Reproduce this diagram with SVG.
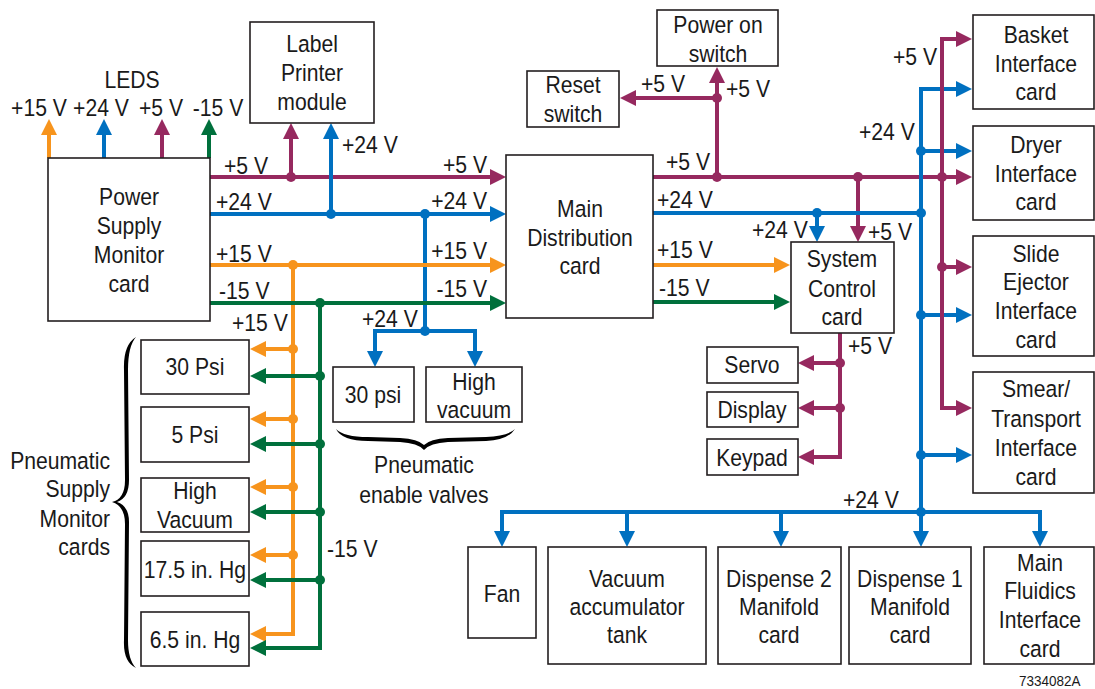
<svg xmlns="http://www.w3.org/2000/svg" width="1095" height="689" viewBox="0 0 1095 689">
<style>
text{font-family:"Liberation Sans",Arial,sans-serif;font-size:23.5px;fill:#1a1a1a;transform-box:fill-box;transform-origin:left center;transform:scaleX(0.9)}
.c{text-anchor:middle;transform-origin:center}
.e{text-anchor:end;transform-origin:right center}
.box{fill:#fff;stroke:#231f20;stroke-width:1.6}
.w{fill:none;stroke-width:4;stroke-linejoin:miter}
.M{stroke:#96295f}.B{stroke:#0070c0}.O{stroke:#f7941d}.G{stroke:#00703c}
.dM{fill:#96295f}.dB{fill:#0070c0}.dO{fill:#f7941d}.dG{fill:#00703c}
.am{marker-end:url(#aM)}.ab{marker-end:url(#aB)}.ao{marker-end:url(#aO)}.ag{marker-end:url(#aG)}
.brace{fill:#000;stroke:none}
</style>
<defs>
<marker id="aM" viewBox="0 0 16 16" refX="4" refY="8" markerWidth="16" markerHeight="16" markerUnits="userSpaceOnUse" orient="auto"><path d="M0,0 L16,8 L0,16 z" fill="#96295f"/></marker>
<marker id="aB" viewBox="0 0 16 16" refX="4" refY="8" markerWidth="16" markerHeight="16" markerUnits="userSpaceOnUse" orient="auto"><path d="M0,0 L16,8 L0,16 z" fill="#0070c0"/></marker>
<marker id="aO" viewBox="0 0 16 16" refX="4" refY="8" markerWidth="16" markerHeight="16" markerUnits="userSpaceOnUse" orient="auto"><path d="M0,0 L16,8 L0,16 z" fill="#f7941d"/></marker>
<marker id="aG" viewBox="0 0 16 16" refX="4" refY="8" markerWidth="16" markerHeight="16" markerUnits="userSpaceOnUse" orient="auto"><path d="M0,0 L16,8 L0,16 z" fill="#00703c"/></marker>
</defs>

<g id="connectors">
<path class="w O ao" d="M49,158 V131"/>
<path class="w B ab" d="M104,158 V131"/>
<path class="w M am" d="M162,158 V131"/>
<path class="w G ag" d="M209,158 V131"/>
<path class="w M am" d="M210,177 H494"/>
<path class="w M am" d="M291,177 V135"/>
<path class="w B ab" d="M210,214 H494"/>
<path class="w B ab" d="M331,214 V135"/>
<path class="w B" d="M425,214 V331"/>
<path class="w B ab" d="M425,331 H375 V355"/>
<path class="w B ab" d="M425,331 H475 V355"/>
<path class="w O ao" d="M210,265 H494"/>
<path class="w O ao" d="M293,265 V634 H262"/>
<path class="w O ao" d="M293,349 H262"/>
<path class="w O ao" d="M293,419 H262"/>
<path class="w O ao" d="M293,487 H262"/>
<path class="w O ao" d="M293,555 H262"/>
<path class="w G ag" d="M210,303 H494"/>
<path class="w G ag" d="M320,303 V648 H262"/>
<path class="w G ag" d="M320,376 H262"/>
<path class="w G ag" d="M320,444 H262"/>
<path class="w G ag" d="M320,512 H262"/>
<path class="w G ag" d="M320,580 H262"/>
<path class="w M am" d="M653,177 H960"/>
<path class="w M am" d="M717,177 V79"/>
<path class="w M am" d="M717,98 H632"/>
<path class="w M am" d="M858,177 V230"/>
<path class="w B" d="M653,213 H921"/>
<path class="w B ab" d="M817,213 V230"/>
<path class="w O ao" d="M653,265 H778"/>
<path class="w G ag" d="M653,302 H778"/>
<path class="w B ab" d="M921,512 V89 H960"/>
<path class="w B ab" d="M921,151 H960"/>
<path class="w B ab" d="M921,315 H960"/>
<path class="w B ab" d="M921,455 H960"/>
<path class="w M am" d="M942,177 V39 H960"/>
<path class="w M am" d="M942,177 V408 H960"/>
<path class="w M am" d="M942,267 H960"/>
<path class="w M am" d="M840,333 V457 H810"/>
<path class="w M am" d="M840,363 H810"/>
<path class="w M am" d="M840,408 H810"/>
<path class="w B ab" d="M921,512 H502 V535"/>
<path class="w B ab" d="M921,512 H1040 V535"/>
<path class="w B ab" d="M627,512 V535"/>
<path class="w B ab" d="M781,512 V535"/>
<path class="w B ab" d="M921,512 V535"/>
<circle class="dM" cx="291" cy="177" r="5"/>
<circle class="dB" cx="331" cy="214" r="5"/>
<circle class="dB" cx="425" cy="214" r="5"/>
<circle class="dB" cx="425" cy="331" r="5"/>
<circle class="dO" cx="293" cy="265" r="5"/>
<circle class="dG" cx="320" cy="303" r="5"/>
<circle class="dO" cx="293" cy="349" r="5"/>
<circle class="dO" cx="293" cy="419" r="5"/>
<circle class="dO" cx="293" cy="487" r="5"/>
<circle class="dO" cx="293" cy="555" r="5"/>
<circle class="dG" cx="320" cy="376" r="5"/>
<circle class="dG" cx="320" cy="444" r="5"/>
<circle class="dG" cx="320" cy="512" r="5"/>
<circle class="dG" cx="320" cy="580" r="5"/>
<circle class="dM" cx="717" cy="177" r="5"/>
<circle class="dM" cx="717" cy="98" r="5"/>
<circle class="dM" cx="858" cy="177" r="5"/>
<circle class="dM" cx="942" cy="177" r="5"/>
<circle class="dM" cx="942" cy="267" r="5"/>
<circle class="dB" cx="817" cy="213" r="5"/>
<circle class="dB" cx="921" cy="213" r="5"/>
<circle class="dB" cx="921" cy="151" r="5"/>
<circle class="dB" cx="921" cy="315" r="5"/>
<circle class="dB" cx="921" cy="455" r="5"/>
<circle class="dB" cx="921" cy="512" r="5"/>
<circle class="dM" cx="840" cy="363" r="5"/>
<circle class="dM" cx="840" cy="408" r="5"/>
<text x="132" y="88" class="c">LEDS</text>
<text x="39" y="116" class="c">+15 V</text>
<text x="101" y="116" class="c">+24 V</text>
<text x="161" y="116" class="c">+5 V</text>
<text x="218" y="116" class="c">-15 V</text>
<text x="224" y="174">+5 V</text>
<text x="216" y="210">+24 V</text>
<text x="216" y="262">+15 V</text>
<text x="219" y="299">-15 V</text>
<text x="232" y="331">+15 V</text>
<text x="342" y="153">+24 V</text>
<text x="487" y="173" class="e">+5 V</text>
<text x="487" y="209" class="e">+24 V</text>
<text x="487" y="259" class="e">+15 V</text>
<text x="487" y="297" class="e">-15 V</text>
<text x="362" y="327">+24 V</text>
<text x="327" y="557">-15 V</text>
<text x="666" y="170">+5 V</text>
<text x="657" y="208">+24 V</text>
<text x="657" y="258">+15 V</text>
<text x="659" y="296">-15 V</text>
<text x="641" y="92">+5 V</text>
<text x="726" y="97">+5 V</text>
<text x="752" y="238">+24 V</text>
<text x="868" y="240">+5 V</text>
<text x="893" y="65">+5 V</text>
<text x="859" y="140">+24 V</text>
<text x="848" y="354">+5 V</text>
<text x="843" y="508">+24 V</text>
</g>

<g id="psm"><rect class="box" x="48" y="158" width="162" height="163"/>
<text x="129" y="205" class="c">Power</text><text x="129" y="234" class="c">Supply</text><text x="129" y="263" class="c">Monitor</text><text x="129" y="292" class="c">card</text></g>
<g id="labelprinter"><rect class="box" x="250" y="22" width="124" height="101"/>
<text x="312" y="52" class="c">Label</text><text x="312" y="81" class="c">Printer</text><text x="312" y="110" class="c">module</text></g>
<g id="reset"><rect class="box" x="527" y="71" width="92" height="56"/>
<text x="573" y="93" class="c">Reset</text><text x="573" y="122" class="c">switch</text></g>
<g id="poweron"><rect class="box" x="657" y="10" width="121" height="56"/>
<text x="718" y="33" class="c">Power on</text><text x="718" y="62" class="c">switch</text></g>
<g id="main"><rect class="box" x="506" y="155" width="147" height="163"/>
<text x="580" y="217" class="c">Main</text><text x="580" y="246" class="c">Distribution</text><text x="580" y="274" class="c">card</text></g>
<g id="syscontrol"><rect class="box" x="791" y="242" width="103" height="91"/>
<text x="842" y="267" class="c">System</text><text x="842" y="297" class="c">Control</text><text x="842" y="325" class="c">card</text></g>
<g id="basket"><rect class="box" x="973" y="15" width="121" height="94"/>
<text x="1036" y="43" class="c">Basket</text><text x="1036" y="72" class="c">Interface</text><text x="1036" y="100" class="c">card</text></g>
<g id="dryer"><rect class="box" x="973" y="126" width="121" height="94"/>
<text x="1036" y="153" class="c">Dryer</text><text x="1036" y="182" class="c">Interface</text><text x="1036" y="210" class="c">card</text></g>
<g id="slide"><rect class="box" x="973" y="236" width="121" height="120"/>
<text x="1036" y="262" class="c">Slide</text><text x="1036" y="290" class="c">Ejector</text><text x="1036" y="319" class="c">Interface</text><text x="1036" y="348" class="c">card</text></g>
<g id="smear"><rect class="box" x="973" y="372" width="121" height="121"/>
<text x="1036" y="397" class="c">Smear/</text><text x="1036" y="427" class="c">Transport</text><text x="1036" y="456" class="c">Interface</text><text x="1036" y="485" class="c">card</text></g>
<g id="servo"><rect class="box" x="707" y="347" width="91" height="36"/><text x="752" y="373" class="c">Servo</text></g>
<g id="display"><rect class="box" x="707" y="392" width="91" height="35"/><text x="752" y="418" class="c">Display</text></g>
<g id="keypad"><rect class="box" x="707" y="439" width="91" height="36"/><text x="752" y="466" class="c">Keypad</text></g>
<g id="fan"><rect class="box" x="468" y="547" width="68" height="91"/><text x="502" y="602" class="c">Fan</text></g>
<g id="vacuum"><rect class="box" x="548" y="547" width="158" height="117"/>
<text x="627" y="587" class="c">Vacuum</text><text x="627" y="615" class="c">accumulator</text><text x="627" y="643" class="c">tank</text></g>
<g id="dispense2"><rect class="box" x="718" y="547" width="123" height="117"/>
<text x="779" y="587" class="c">Dispense 2</text><text x="779" y="615" class="c">Manifold</text><text x="779" y="643" class="c">card</text></g>
<g id="dispense1"><rect class="box" x="849" y="547" width="122" height="117"/>
<text x="910" y="587" class="c">Dispense 1</text><text x="910" y="615" class="c">Manifold</text><text x="910" y="643" class="c">card</text></g>
<g id="fluidics"><rect class="box" x="984" y="547" width="110" height="117"/>
<text x="1040" y="571" class="c">Main</text><text x="1040" y="599" class="c">Fluidics</text><text x="1040" y="628" class="c">Interface</text><text x="1040" y="657" class="c">card</text></g>
<g id="psi30"><rect class="box" x="141" y="340" width="108" height="54"/><text x="195" y="375" class="c">30 Psi</text></g>
<g id="psi5"><rect class="box" x="141" y="407" width="108" height="55"/><text x="195" y="443" class="c">5 Psi</text></g>
<g id="highvac"><rect class="box" x="141" y="478" width="108" height="54"/>
<text x="195" y="499" class="c">High</text><text x="195" y="528" class="c">Vacuum</text></g>
<g id="hg175"><rect class="box" x="141" y="541" width="108" height="55"/><text x="195" y="578" class="c">17.5 in. Hg</text></g>
<g id="hg65"><rect class="box" x="141" y="612" width="108" height="54"/><text x="195" y="648" class="c">6.5 in. Hg</text></g>
<g id="valve30"><rect class="box" x="333" y="367" width="81" height="55"/><text x="373" y="403" class="c">30 psi</text></g>
<g id="valvehv"><rect class="box" x="426" y="367" width="96" height="55"/>
<text x="474" y="390" class="c">High</text><text x="474" y="418" class="c">vacuum</text></g>

<g id="pneumatic-supply-label">
<path class="brace" d="M136,337 Q123,345 124,370 L125,480 Q125,499 112,502 Q125,506 125,524 L124,640 Q123,662 136,668 Q128,660 128,640 L129,522 Q129,506 117,502 Q129,498 129,480 L128,370 Q128,346 136,337 Z"/>
<text x="110" y="469" class="e">Pneumatic</text><text x="110" y="497" class="e">Supply</text><text x="110" y="527" class="e">Monitor</text><text x="110" y="555" class="e">cards</text>
</g>
<g id="pneumatic-valve-label">
<path class="brace" d="M336,429 Q342,441 368,441 L400,442 Q418,443 424,450 Q430,443 448,442 L486,441 Q508,440 515,429 Q508,436 486,437 L448,438 Q430,439 424,445 Q418,439 400,438 L368,437 Q344,437 336,429 Z"/>
<text x="424" y="473" class="c">Pneumatic</text><text x="424" y="503" class="c">enable valves</text>
</g>
<text x="1019" y="686" style="font-size:15px">7334082A</text>
</svg>
